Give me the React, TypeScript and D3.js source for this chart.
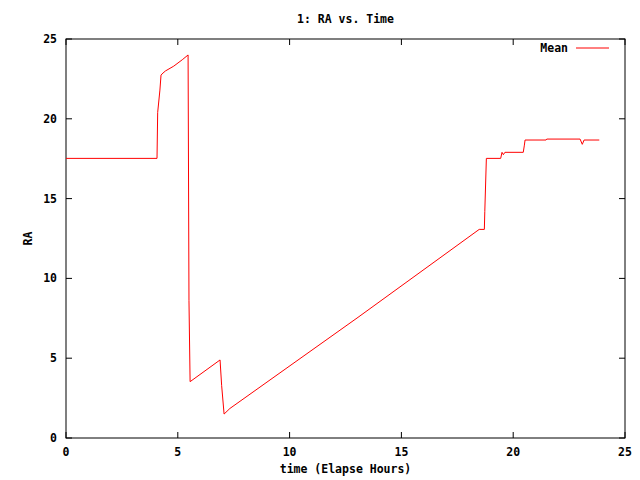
import React from "react";
import * as d3 from "d3";

const title = "1: RA vs. Time";
const xLabel = "time (Elapse Hours)";
const yLabel = "RA";
const seriesName = "Mean";
const xTicks = [0, 5, 10, 15, 20, 25];
const yTicks = [0, 5, 10, 15, 20, 25];

const timeHours = [
  0, 4.07, 4.1, 4.2, 4.25, 4.34, 4.45, 4.82, 5.2, 5.46,
  5.5, 5.55, 6.89, 6.96, 7.07, 7.33, 13.06, 18.48, 18.71, 18.73, 18.8,
  19.44, 19.5, 19.56, 19.63, 20.45, 20.5, 20.53, 21.47, 21.5, 22.99, 23.09, 23.17, 23.85,
];
const raMean = [
  17.52, 17.52, 20.4, 21.8, 22.74, 22.87, 23.0, 23.3, 23.7, 24.0,
  8.6, 3.53, 4.89, 3.3, 1.5, 1.85, 7.56, 13.07, 13.07, 14.2, 17.52,
  17.52, 17.9, 17.75, 17.9, 17.9, 18.35, 18.67, 18.67, 18.73, 18.73, 18.4, 18.67, 18.67,
];

const W = 640, H = 480;
const L = 66, R = 625, T = 39, B = 438;
const FONT = "'DejaVu Sans Mono', monospace";

export default function App() {
  const x = d3.scaleLinear().domain([0, 25]).range([L, R]);
  const y = d3.scaleLinear().domain([0, 25]).range([B, T]);
  const pts: [number, number][] = timeHours.map((t, i) => [t, raMean[i]]);
  const line = d3.line<[number, number]>().x((d) => x(d[0])).y((d) => y(d[1]));
  const tl = 6;
  return (
    <svg width={W} height={H} style={{ position: "absolute", left: 0, top: 0, background: "#fff" }}
      fontFamily={FONT} fontWeight="bold" fontSize={11.5}>
      <rect x={0} y={0} width={W} height={H} fill="#fff" />
      <text x={(L + R) / 2} y={23} textAnchor="middle">{title}</text>
      {xTicks.map((t) => (
        <g key={"x" + t}>
          <line x1={x(t)} x2={x(t)} y1={B} y2={B - tl} stroke="#000" />
          <line x1={x(t)} x2={x(t)} y1={T} y2={T + tl} stroke="#000" />
          <text x={x(t)} y={456} textAnchor="middle">{t}</text>
        </g>
      ))}
      {yTicks.map((t) => (
        <g key={"y" + t}>
          <line x1={L} x2={L + tl} y1={y(t)} y2={y(t)} stroke="#000" />
          <line x1={R} x2={R - tl} y1={y(t)} y2={y(t)} stroke="#000" />
          <text x={57} y={y(t) + 4} textAnchor="end">{t}</text>
        </g>
      ))}
      <rect x={L} y={T} width={R - L} height={B - T} fill="none" stroke="#000" strokeWidth={1} />
      <text x={(L + R) / 2} y={473} textAnchor="middle">{xLabel}</text>
      <text transform={`translate(32,${(T + B) / 2}) rotate(-90)`} textAnchor="middle">{yLabel}</text>
      <text x={568} y={52} textAnchor="end">{seriesName}</text>
      <line x1={576} x2={609} y1={48} y2={48} stroke="#f00" strokeWidth={1} />
      <path d={line(pts) || ""} fill="none" stroke="#f00" strokeWidth={1} />
    </svg>
  );
}
